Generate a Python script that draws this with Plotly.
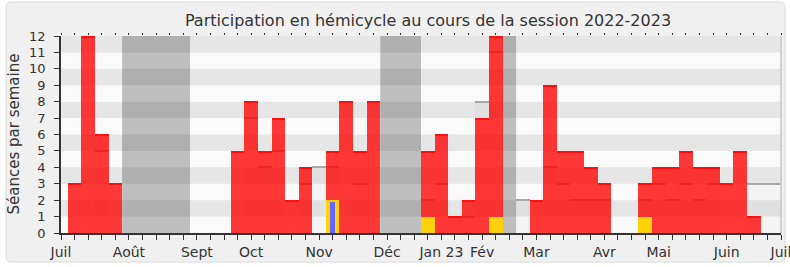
import plotly.graph_objects as go

# ---- data (weekly, index 0 = first week of July 2022) ----
weeks = list(range(54))
presence = [0, 3, 12, 6, 3, 0, 0, 0, 0, 0, 0, 0, 0,
            5, 8, 5, 7, 2, 4, 0, 5, 8, 5, 8, 0, 0, 0,
            5, 6, 1, 2, 7, 12, 0,
            0, 2, 9, 5, 5, 4, 3, 0, 0, 3, 4, 4, 5, 4, 4, 3, 5, 1, 0, 0]
mediane = [0, 0, 0, 5, 0, 0, 0, 0, 0, 0, 0, 0, 0,
           0, 7, 4, 5, 0, 3, 4, 4, 0, 3, 0, 0, 0, 0,
           2, 3, 1, 1, 8, 11, 0,
           2, 0, 4, 3, 2, 2, 2, 0, 0, 2, 3, 2, 3, 2, 3, 0, 0, 3, 3, 3]
interv_weeks = [20, 27, 32, 43]
interventions = [2, 1, 1, 1]
quest_weeks = [20]
questions = [2]
vacances = [5, 6, 7, 8, 9, 24, 25, 26, 33]
tick_weeks = [0, 5, 10, 14, 19, 24, 28, 31, 35, 40, 44, 49, 53]
tick_labels = ["Juil", "Août", "Sept", "Oct", "Nov", "Déc", "Jan 23", "Fév",
               "Mar", "Avr", "Mai", "Juin", "Juil"]

FONT = "DejaVu Sans"
W, H = 790, 267
L, R, T, B = 61, 781, 36, 233
LINE_H = 1.1 / ((B - T) / 12)  # ~1px top edges, in y units


def px_x(p):
    return (p - L) / (R - L)


def px_y(p):
    return (B - p) / (B - T)


fig = go.Figure()

# median (fill + top edge, both as bars so they stay below the presence bars)
fig.add_trace(go.Bar(x=weeks, y=mediane, width=1, marker_color="rgba(0,0,0,0.025)",
                     marker_line_width=0, hoverinfo="skip", showlegend=False))
med_w = [w for w, m in zip(weeks, mediane) if m > 0]
med_v = [m for m in mediane if m > 0]
fig.add_trace(go.Bar(x=med_w, y=[LINE_H] * len(med_v), base=[m - LINE_H / 2 for m in med_v],
                     width=1, marker_color="#a8a8a8", marker_line_width=0,
                     hoverinfo="skip", showlegend=False))
# presence
fig.add_trace(go.Bar(x=weeks, y=presence, width=1, marker_color="rgba(255,0,0,0.78)",
                     marker_line_width=0, showlegend=False))
pr_w = [w for w, p in zip(weeks, presence) if p > 0]
pr_v = [p for p in presence if p > 0]
fig.add_trace(go.Bar(x=pr_w, y=[LINE_H] * len(pr_v), base=[p - LINE_H for p in pr_v],
                     width=1, marker_color="#ff1010", marker_line_width=0,
                     hoverinfo="skip", showlegend=False))
# interventions
fig.add_trace(go.Bar(x=interv_weeks, y=interventions, width=1, marker_color="#ffd10a",
                     marker_line_width=0, showlegend=False))
# questions
fig.add_trace(go.Bar(x=quest_weeks, y=[q - 0.12 for q in questions], width=0.36,
                     marker_color="#6666ff", marker_line_width=0, showlegend=False))
# top tick marks axis
fig.add_trace(go.Scatter(x=[None], y=[None], xaxis="x2", showlegend=False, hoverinfo="skip"))

shapes = []
# outer rounded frame
x0, x1, y0, y1, r = px_x(6), px_x(785), px_y(2), px_y(262), 5
rx_ = r / (R - L)
ry_ = r / (B - T)
path = (f"M {x0 + rx_},{y0} L {x1 - rx_},{y0} Q {x1},{y0} {x1},{y0 - ry_} "
        f"L {x1},{y1 + ry_} Q {x1},{y1} {x1 - rx_},{y1} L {x0 + rx_},{y1} "
        f"Q {x0},{y1} {x0},{y1 + ry_} L {x0},{y0 - ry_} Q {x0},{y0} {x0 + rx_},{y0} Z")
shapes.append(dict(type="path", path=path, xref="paper", yref="paper",
                   fillcolor="#f0f0f0", line=dict(color="#dadada", width=1), layer="below"))
# plot background
shapes.append(dict(type="rect", xref="paper", yref="paper", x0=0, x1=1, y0=0, y1=1,
                   fillcolor="#fafafa", line_width=0, layer="below"))
# vacation bands (consecutive weeks merged)
spans = []
for v in vacances:
    if spans and spans[-1][1] == v - 1:
        spans[-1][1] = v
    else:
        spans.append([v, v])
for a, b in spans:
    shapes.append(dict(type="rect", xref="x", yref="paper", x0=a - 0.5, x1=b + 0.5,
                       y0=0, y1=1, fillcolor="#bebebe", line_width=0, layer="below"))
# stripes
for k in range(6):
    shapes.append(dict(type="rect", xref="paper", yref="y", x0=0, x1=1,
                       y0=2 * k + 1, y1=2 * k + 2, fillcolor="rgba(0,0,0,0.08)",
                       line_width=0, layer="below"))
# right border
shapes.append(dict(type="line", xref="paper", yref="paper", x0=1, x1=1, y0=0, y1=1,
                   line=dict(color="#c4c4c4", width=1.5)))

ticktext = [tick_labels[tick_weeks.index(w)] if w in tick_weeks else "" for w in weeks]

fig.update_layout(
    width=W, height=H,
    margin=dict(l=L, r=W - R, t=T, b=H - B, autoexpand=False),
    paper_bgcolor="white", plot_bgcolor="rgba(0,0,0,0)",
    barmode="overlay", bargap=0, bargroupgap=0,
    font=dict(family=FONT, color="#333333"),
    shapes=shapes,
    title=dict(text="Participation en hémicycle au cours de la session 2022-2023",
               font=dict(family=FONT, size=16, color="#333333"),
               x=px_x(428), xref="paper", xanchor="center",
               y=1 - 20 / H, yref="container", yanchor="middle"),
    xaxis=dict(range=[0, 53], tickmode="array", tickvals=weeks, ticktext=ticktext,
               ticks="outside", ticklen=5, tickwidth=1, tickcolor="#333333",
               showline=True, linecolor="#333333", linewidth=1.5,
               showgrid=False, zeroline=False, ticklabeloverflow="allow",
               automargin=False,
               tickfont=dict(family=FONT, size=14, color="#333333")),
    xaxis2=dict(range=[0, 53], overlaying="x", side="top", matches="x", anchor="y",
                tickmode="array", tickvals=weeks, ticks="outside", ticklen=2,
                tickcolor="#333333", showticklabels=False, showline=False,
                showgrid=False, zeroline=False, automargin=False),
    yaxis=dict(range=[0, 12], tickmode="array", tickvals=list(range(13)),
               ticks="outside", ticklen=5, tickcolor="#333333",
               showline=True, linecolor="#333333", linewidth=1.5,
               showgrid=False, zeroline=False, ticklabelstandoff=6,
               automargin=False,
               tickfont=dict(family=FONT, size=13, color="#333333")),
    annotations=[dict(text="Séances par semaine", textangle=-90, xref="paper", yref="paper",
                      x=px_x(13), y=0.5, xanchor="center", yanchor="middle",
                      showarrow=False, font=dict(family=FONT, size=15, color="#333333"))],
)

fig.write_html("out.html")
